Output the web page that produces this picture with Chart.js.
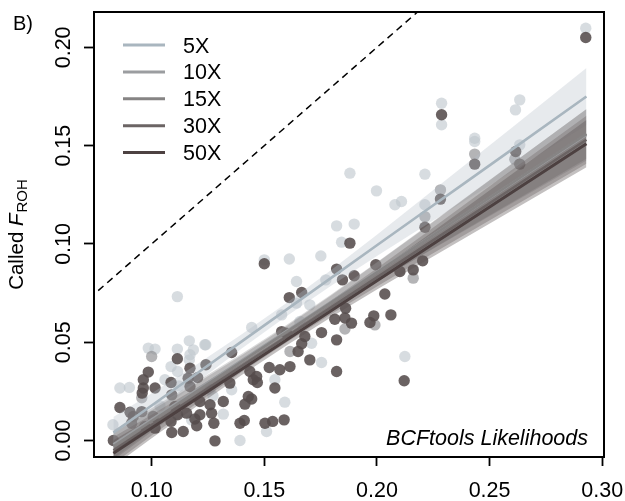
<!DOCTYPE html>
<html>
<head>
<meta charset="utf-8">
<script src="https://cdn.jsdelivr.net/npm/chart.js@4.4.0/dist/chart.umd.min.js"></script>
<style>
  html, body { margin: 0; padding: 0; background: #fff; }
  canvas { display: block; }
</style>
</head>
<body>
<canvas id="rohChart" width="625" height="501"></canvas>
<script>
const FONT = '"Liberation Sans", Arial, Helvetica, sans-serif';

// Coverage levels
const seriesLabels = ['5X', '10X', '15X', '30X', '50X'];
const lineColors = ['#a9b6bf', '#9b9da0', '#868484', '#6b6464', '#4d4141'];
const bandColors = ['rgba(180,190,198,0.32)', 'rgba(150,150,153,0.36)', 'rgba(130,127,127,0.36)',
    'rgba(110,103,103,0.36)', 'rgba(90,80,80,0.36)'];
const pointColors = ['rgba(190,198,205,0.62)', 'rgba(140,140,143,0.65)', 'rgba(85,76,76,0.88)',
    'rgba(85,76,76,0.88)', 'rgba(85,76,76,0.88)'];

const xTicks = [0.10, 0.15, 0.20, 0.25, 0.30];
const xTickLabels = ['0.10', '0.15', '0.20', '0.25', '0.30'];
const yTicks = [0.00, 0.05, 0.10, 0.15, 0.20];
const yTickLabels = ['0.00', '0.05', '0.10', '0.15', '0.20'];

// True F (x) vs called F (y) per individual
const x5 = [0.1114, 0.0985, 0.1015, 0.1167, 0.1114, 0.1236, 0.1170, 0.1086, 0.1115, 0.0859, 0.0901, 0.1121,
    0.1037, 0.1177, 0.1500, 0.1611, 0.1643, 0.1643, 0.1444, 0.1240, 0.1547, 0.1355, 0.1591, 0.1318, 0.1510,
    0.1392, 0.1998, 0.2080, 0.2109, 0.1821, 0.1899, 0.1843, 0.1751, 0.1773, 0.1702, 0.2124, 0.1754, 0.2287,
    0.2287, 0.2634, 0.2615, 0.2434, 0.2434, 0.2634, 0.1880, 0.2213, 0.2213, 0.2927, 0.1577, 0.1658, 0.1710,
    0.1259, 0.1167, 0.1185, 0.0828, 0.1059, 0.1272];
const y5 = [0.0732, 0.0470, 0.0465, 0.0507, 0.0465, 0.0487, 0.0436, 0.0376, 0.0351, 0.0267, 0.0270, 0.0278,
    0.0176, 0.0105, 0.0919, 0.0923, 0.0809, 0.0699, 0.0575, 0.0487, 0.0309, 0.0258, 0.0195, 0.0134, 0.0046,
    0.0000, 0.1270, 0.1199, 0.1216, 0.1092, 0.1101, 0.1009, 0.0939, 0.0817, 0.0690, 0.0427, 0.0397, 0.1716,
    0.1606, 0.1733, 0.1682, 0.1538, 0.1521, 0.1504, 0.1360, 0.1355, 0.1199, 0.2097, 0.0639, 0.0605, 0.0495,
    0.0261, 0.0410, 0.0461, 0.0080, 0.0309, 0.0227];

const x10 = [0.2434, 0.2612, 0.2282, 0.2213, 0.1614, 0.1858, 0.1991, 0.1000, 0.0956, 0.2161];
const y10 = [0.1457, 0.1431, 0.1275, 0.1139, 0.0453, 0.0567, 0.0588, 0.0427, 0.0217, 0.0826];

const x15 = [0.1114, 0.1162, 0.0963, 0.1086, 0.0859, 0.0956, 0.1115, 0.0911, 0.1086, 0.1089, 0.1500, 0.1355,
    0.1522, 0.1436, 0.1547, 0.1444, 0.1259, 0.1392, 0.1537, 0.1880, 0.1899, 0.2062, 0.1858, 0.1986, 0.1680,
    0.1821, 0.2434, 0.2282, 0.2161, 0.1214, 0.1599];
const y15 = [0.0416, 0.0317, 0.0267, 0.0295, 0.0168, 0.0147, 0.0131, 0.0088, 0.0097, 0.0041, 0.0899, 0.0448,
    0.0371, 0.0351, 0.0267, 0.0211, 0.0182, 0.0088, 0.0097, 0.1004, 0.0838, 0.0639, 0.0623, 0.0634, 0.0529,
    0.0351, 0.1406, 0.1228, 0.0868, 0.0198, 0.0546];

const x30 = [0.1170, 0.1204, 0.0958, 0.1170, 0.0904, 0.1007, 0.1155, 0.0970, 0.1192, 0.1140, 0.1611, 0.1577,
    0.1569, 0.1451, 0.1347, 0.1414, 0.1266, 0.1411, 0.1588, 0.1995, 0.1847, 0.1861, 0.1887, 0.1754, 0.1666,
    0.2121, 0.2616, 0.2213, 0.2102, 0.1466];
const y30 = [0.0368, 0.0320, 0.0241, 0.0275, 0.0144, 0.0122, 0.0139, 0.0071, 0.0109, 0.0046, 0.0727, 0.0554,
    0.0360, 0.0309, 0.0292, 0.0185, 0.0139, 0.0102, 0.0105, 0.0894, 0.0817, 0.0673, 0.0597, 0.0549, 0.0492,
    0.0304, 0.1470, 0.1085, 0.0860, 0.0326];

const x50 = [0.0985, 0.0963, 0.1015, 0.1089, 0.0918, 0.1103, 0.1214, 0.1015, 0.1200, 0.0830, 0.1666, 0.1241,
    0.1614, 0.1469, 0.1429, 0.1318, 0.1276, 0.1503, 0.1281, 0.1821, 0.2035, 0.1813, 0.1969, 0.1821, 0.1702,
    0.2287, 0.2634, 0.2203, 0.2927, 0.1650];
const y50 = [0.0348, 0.0309, 0.0267, 0.0232, 0.0122, 0.0173, 0.0131, 0.0063, 0.0075, 0.0000, 0.0753, 0.0385,
    0.0376, 0.0295, 0.0224, 0.0198, 0.0088, 0.0088, -0.0002, 0.0872, 0.0745, 0.0617, 0.0600, 0.0512, 0.0410,
    0.1657, 0.1406, 0.0914, 0.2050, 0.0453];

// Regression fits and confidence half-widths, sampled along x
const fitX = [0.083, 0.10, 0.12, 0.14, 0.16, 0.18, 0.20, 0.22, 0.24, 0.26, 0.293];
const fit5 = [0.0040, 0.0178, 0.0341, 0.0504, 0.0667, 0.0830, 0.0993, 0.1156, 0.1318, 0.1481, 0.1750];
const fit10 = [-0.0020, 0.0108, 0.0258, 0.0408, 0.0558, 0.0708, 0.0858, 0.1008, 0.1158, 0.1308, 0.1555];
const fit15 = [-0.0030, 0.0099, 0.0250, 0.0402, 0.0553, 0.0704, 0.0856, 0.1007, 0.1159, 0.1310, 0.1560];
const fit30 = [-0.0050, 0.0078, 0.0228, 0.0379, 0.0529, 0.0680, 0.0830, 0.0981, 0.1131, 0.1282, 0.1530];
const fit50 = [-0.0065, 0.0063, 0.0213, 0.0363, 0.0513, 0.0663, 0.0813, 0.0963, 0.1113, 0.1263, 0.1510];
const ci5 = [0.0080, 0.0062, 0.0046, 0.0036, 0.0034, 0.0040, 0.0054, 0.0072, 0.0092, 0.0112, 0.0145];
const ci10 = [0.0072, 0.0056, 0.0042, 0.0033, 0.0031, 0.0037, 0.0049, 0.0065, 0.0083, 0.0101, 0.0130];
const ci15 = [0.0070, 0.0055, 0.0041, 0.0032, 0.0030, 0.0036, 0.0048, 0.0063, 0.0080, 0.0098, 0.0126];
const ci30 = [0.0068, 0.0053, 0.0040, 0.0031, 0.0029, 0.0035, 0.0046, 0.0061, 0.0078, 0.0095, 0.0122];
const ci50 = [0.0066, 0.0052, 0.0039, 0.0030, 0.0028, 0.0034, 0.0045, 0.0060, 0.0076, 0.0093, 0.0120];

// y = x reference line ends
const identityX = [0, 0.3];

const pointX = [x5, x10, x15, x30, x50];
const pointY = [y5, y10, y15, y30, y50];
const fits = [fit5, fit10, fit15, fit30, fit50];
const halfWidths = [ci5, ci10, ci15, ci30, ci50];

function toPoints(xs, ys) {
    return xs.map((x, i) => ({ x: x, y: ys[i] }));
}

const datasets = [];
seriesLabels.forEach((label, s) => {
    const rank = (seriesLabels.length - 1 - s) * 0.01;
    datasets.push({
        type: 'line', label: label, data: toPoints(fitX, fits[s]),
        borderColor: lineColors[s], borderWidth: s === 4 ? 3 : 2.6, pointRadius: 0, fill: false, order: rank, clip: 0
    });
    datasets.push({
        type: 'line', label: label + ' upper', data: toPoints(fitX, fits[s].map((v, i) => v + halfWidths[s][i])),
        borderWidth: 0, pointRadius: 0, backgroundColor: bandColors[s], fill: '+1', order: 1 + rank, clip: 0
    });
    datasets.push({
        type: 'line', label: label + ' lower', data: toPoints(fitX, fits[s].map((v, i) => v - halfWidths[s][i])),
        borderWidth: 0, pointRadius: 0, fill: false, order: 1 + rank, clip: 0
    });
    datasets.push({
        type: 'scatter', label: label + ' points', data: toPoints(pointX[s], pointY[s]),
        backgroundColor: pointColors[s], borderWidth: 0, pointRadius: 5.7, order: 2 + rank
    });
});
datasets.push({
    type: 'line', label: 'y = x', data: toPoints(identityX, identityX),
    borderColor: '#000', borderWidth: 1.5, borderDash: [7, 5], pointRadius: 0, fill: false, order: 0, clip: 0
});

// Box, tick labels, titles and legend, drawn R-style
const decorations = {
    id: 'decorations',
    afterDraw(chart) {
        const { ctx, chartArea: a, scales } = chart;
        ctx.save();
        ctx.strokeStyle = '#000';
        ctx.lineWidth = 2;
        ctx.strokeRect(a.left, a.top, a.right - a.left, a.bottom - a.top);

        ctx.fillStyle = '#000';
        ctx.font = '21.5px ' + FONT;
        ctx.textAlign = 'center';
        ctx.textBaseline = 'alphabetic';
        xTicks.forEach((v, i) => {
            ctx.fillText(xTickLabels[i], scales.x.getPixelForValue(v), a.bottom + 40);
        });
        yTicks.forEach((v, i) => {
            const py = scales.y.getPixelForValue(v);
            ctx.save();
            ctx.translate(a.left - 24, py);
            ctx.rotate(-Math.PI / 2);
            ctx.fillText(yTickLabels[i], 0, 0);
            ctx.restore();
        });

        // Called F_ROH
        const mainFont = '20.5px ' + FONT;
        const italicFont = 'italic 20.5px ' + FONT;
        const subFont = '15px ' + FONT;
        ctx.textAlign = 'left';
        ctx.font = mainFont;
        const w1 = ctx.measureText('Called ').width;
        ctx.font = italicFont;
        const w2 = ctx.measureText('F').width + 1;
        ctx.font = subFont;
        const w3 = ctx.measureText('ROH').width;
        const start = (a.top + a.bottom) / 2 + (w1 + w2 + w3) / 2;
        ctx.save();
        ctx.translate(23, start);
        ctx.rotate(-Math.PI / 2);
        ctx.font = mainFont;
        ctx.fillText('Called ', 0, 0);
        ctx.font = italicFont;
        ctx.fillText('F', w1, 0);
        ctx.font = subFont;
        ctx.fillText('ROH', w1 + w2, 3.5);
        ctx.restore();

        ctx.font = '20px ' + FONT;
        ctx.fillText('B)', 13, 30);

        ctx.font = 'italic 21.5px ' + FONT;
        ctx.textAlign = 'right';
        ctx.fillText('BCFtools Likelihoods', a.right - 16, a.bottom - 12);

        // legend
        ctx.textAlign = 'left';
        ctx.font = '21.5px ' + FONT;
        ctx.lineWidth = 3;
        seriesLabels.forEach((label, s) => {
            const ry = 45 + s * 26.9;
            ctx.strokeStyle = lineColors[s];
            ctx.beginPath();
            ctx.moveTo(123, ry);
            ctx.lineTo(165, ry);
            ctx.stroke();
            ctx.fillStyle = '#000';
            ctx.fillText(label, 183, ry + 7.5);
        });
        ctx.restore();
    }
};

new Chart(document.getElementById('rohChart'), {
    type: 'scatter',
    data: { datasets: datasets },
    options: {
        responsive: false,
        animation: false,
        layout: { padding: { left: 84, right: 21, top: 12, bottom: 35 } },
        plugins: {
            legend: { display: false },
            tooltip: { enabled: false }
        },
        scales: {
            x: {
                type: 'linear',
                min: 0.0744,
                max: 0.3008,
                afterBuildTicks: scale => { scale.ticks = xTicks.map(v => ({ value: v })); },
                grid: { drawOnChartArea: false, tickLength: 9, tickColor: '#000', tickWidth: 1.8 },
                border: { display: false },
                ticks: { display: false }
            },
            y: {
                type: 'linear',
                min: -0.0084,
                max: 0.218,
                afterBuildTicks: scale => { scale.ticks = yTicks.map(v => ({ value: v })); },
                grid: { drawOnChartArea: false, tickLength: 10, tickColor: '#000', tickWidth: 1.8 },
                border: { display: false },
                ticks: { display: false }
            }
        }
    },
    plugins: [decorations]
});
</script>
</body>
</html>
